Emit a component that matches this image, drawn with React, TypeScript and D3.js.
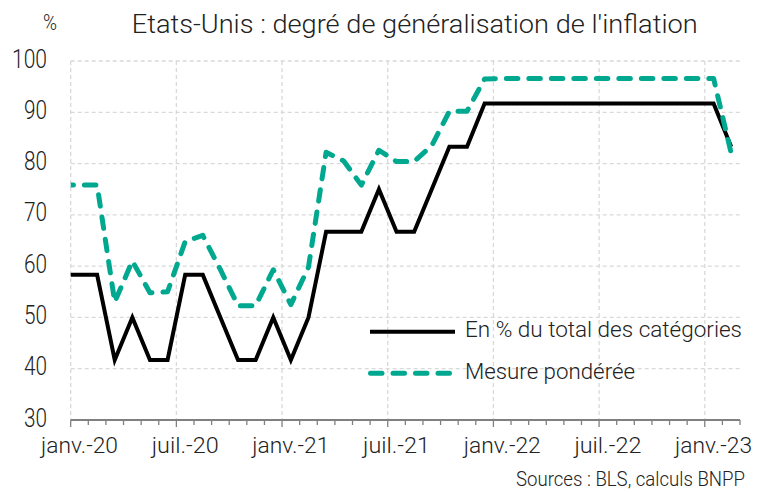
import React from 'react';
import * as d3 from 'd3';

// monthly observations (Dec 2019 is drawn but clipped at the axis start)
const months = [
  '2019-12', '2020-01', '2020-02', '2020-03', '2020-04', '2020-05', '2020-06', '2020-07', '2020-08', '2020-09',
  '2020-10', '2020-11', '2020-12', '2021-01', '2021-02', '2021-03', '2021-04', '2021-05', '2021-06', '2021-07',
  '2021-08', '2021-09', '2021-10', '2021-11', '2021-12', '2022-01', '2022-02', '2022-03', '2022-04', '2022-05',
  '2022-06', '2022-07', '2022-08', '2022-09', '2022-10', '2022-11', '2022-12', '2023-01', '2023-02',
];
const shareOfCategories = [
  58.3, 58.3, 58.3, 41.7, 50, 41.7, 41.7, 58.3, 58.3, 50,
  41.7, 41.7, 50, 41.7, 50, 66.7, 66.7, 66.7, 75, 66.7,
  66.7, 75, 83.3, 83.3, 91.7, 91.7, 91.7, 91.7, 91.7, 91.7,
  91.7, 91.7, 91.7, 91.7, 91.7, 91.7, 91.7, 91.7, 83.3,
];
const weightedMeasure = [
  75.8, 75.8, 75.8, 53, 61, 54.8, 55, 64.8, 66, 59.3,
  52.3, 52.3, 59.3, 52.5, 59.8, 82.2, 80.5, 75.8, 82.6, 80.4,
  80.4, 83.5, 90.2, 90.2, 96.5, 96.6, 96.6, 96.6, 96.6, 96.6,
  96.6, 96.6, 96.6, 96.6, 96.6, 96.6, 96.6, 96.6, 82,
];
const yTicks = [30, 40, 50, 60, 70, 80, 90, 100];
const xTickLabels = ['janv.-20', 'juil.-20', 'janv.-21', 'juil.-21', 'janv.-22', 'juil.-22', 'janv.-23'];
const seriesNames = ['En % du total des catégories', 'Mesure pondérée'];

const W = 757;
const H = 492;
const font = "Roboto, 'Open Sans', 'DejaVu Sans', sans-serif";
const green = '#00A88F';

const parse = d3.timeParse('%Y-%m');
const start = parse('2020-01')!;
const monthIdx = (m: string) => d3.timeMonth.count(start, parse(m)!);

export default function App() {
  const x = d3.scaleLinear().domain([0, 38]).range([70.7, 740]);
  const y = d3.scaleLinear().domain([30, 100]).range([420, 61]);

  const line = d3
    .line<number>()
    .x((_, i) => x(monthIdx(months[i]) + 0.5))
    .y((d) => y(d));

  const majorMonths = xTickLabels.map((_, i) => i * 6);
  const allMonths = d3.range(0, 39);

  return (
    <svg width={W} height={H} style={{ position: 'absolute', left: 0, top: 0, background: '#fff' }}>
      <defs>
        <clipPath id="plot">
          <rect x={x(0)} y={0} width={x(38) - x(0)} height={H} />
        </clipPath>
      </defs>

      {/* grid */}
      {yTicks.slice(1).map((t) => (
        <line key={'h' + t} x1={x(0)} x2={x(38)} y1={y(t)} y2={y(t)}
          stroke="#D9D9D9" strokeWidth={1.3} strokeDasharray="4,3" />
      ))}
      {majorMonths.map((m) => (
        <line key={'v' + m} x1={x(m)} x2={x(m)} y1={y(100)} y2={y(30)}
          stroke="#D9D9D9" strokeWidth={1.3} strokeDasharray="4,3" />
      ))}

      {/* axis */}
      <line x1={x(0)} x2={x(38)} y1={y(30)} y2={y(30)} stroke="#808080" strokeWidth={2} />
      {allMonths.map((m) => (
        <line key={'t' + m} x1={x(m)} x2={x(m)} y1={y(30)}
          y2={y(30) + (m % 6 === 0 ? 7 : 5)} stroke="#808080" strokeWidth={1.3} />
      ))}

      {/* y labels */}
      {yTicks.map((t) => (
        <text key={'y' + t} x={47} y={y(t) + 6.5} textAnchor="end" fontFamily={font} fontWeight={300}
          fontSize={26} fill="#222" textLength={t === 100 ? 35 : 23} lengthAdjust="spacingAndGlyphs">
          {t}
        </text>
      ))}
      <text x={43} y={30} fontFamily={font} fontWeight={300} fontSize={22} fill="#222"
        textLength={14} lengthAdjust="spacingAndGlyphs">%</text>

      {/* x labels */}
      {xTickLabels.map((l, i) => (
        <text key={l} x={x(i * 6 + 0.5)} y={452.5} textAnchor="middle" fontFamily={font} fontWeight={300}
          fontSize={21.5} fill="#222" textLength={l.startsWith('janv') ? 77 : 67} lengthAdjust="spacingAndGlyphs">
          {l}
        </text>
      ))}

      {/* series */}
      <g clipPath="url(#plot)">
        <path d={line(shareOfCategories) ?? ''} fill="none" stroke="#000" strokeWidth={4}
          strokeLinejoin="miter" />
        <path d={line(weightedMeasure) ?? ''} fill="none" stroke={green} strokeWidth={5}
          strokeDasharray="11.5,11" strokeLinecap="round" strokeLinejoin="round" />
      </g>

      {/* legend */}
      <line x1={370} x2={455} y1={331.7} y2={331.7} stroke="#000" strokeWidth={4} />
      <text x={465} y={336.5} fontFamily={font} fontWeight={300} fontSize={22} fill="#222"
        textLength={277} lengthAdjust="spacingAndGlyphs">{seriesNames[0]}</text>
      <line x1={370.5} x2={453} y1={373.3} y2={373.3} stroke={green} strokeWidth={5}
        strokeDasharray="11.5,11" strokeLinecap="round" />
      <text x={465} y={378.5} fontFamily={font} fontWeight={300} fontSize={22} fill="#222"
        textLength={170} lengthAdjust="spacingAndGlyphs">{seriesNames[1]}</text>

      {/* title & source */}
      <text x={131.7} y={33.3} fontFamily={font} fontWeight={300} fontSize={25.5} fill="#222"
        textLength={566} lengthAdjust="spacingAndGlyphs">
        Etats-Unis : degré de généralisation de l'inflation
      </text>
      <text x={745} y={486} textAnchor="end" fontFamily={font} fontWeight={300} fontSize={19.5} fill="#222"
        textLength={229} lengthAdjust="spacingAndGlyphs">
        Sources : BLS, calculs BNPP
      </text>
    </svg>
  );
}
